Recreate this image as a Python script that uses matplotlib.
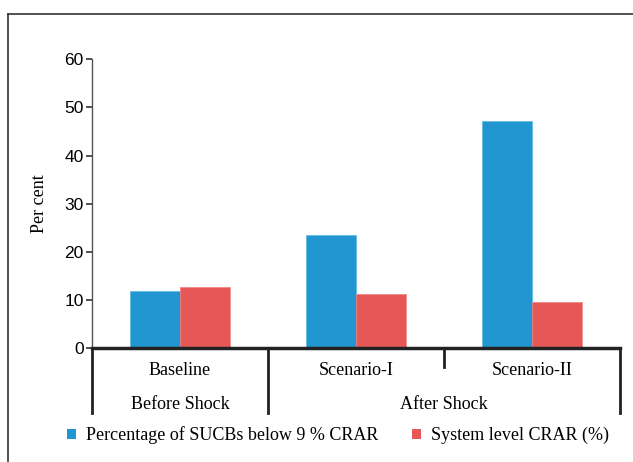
import matplotlib.pyplot as plt
import numpy as np
from matplotlib.patches import Patch
from matplotlib.lines import Line2D

# data
categories = ['Baseline', 'Scenario-I', 'Scenario-II']
groups = ['Before Shock', 'After Shock']
sucbs_below = [11.8, 23.6, 47.2]
system_crar = [12.8, 11.2, 9.6]
series_names = ['Percentage of SUCBs below 9 % CRAR', 'System level CRAR (%)']
yticks = [0, 10, 20, 30, 40, 50, 60]

blue = '#2196d0'
red = '#e75755'
serif = 'Liberation Serif'

fig = plt.figure(figsize=(6.33, 4.62), dpi=100)
ax = fig.add_axes([0.1453, 0.246, 0.9795 - 0.1453, 0.872 - 0.246])

x = np.arange(len(categories))
w = 0.284
ax.bar(x - w/2, sucbs_below, width=w, color=blue, edgecolor='#5ab8e6', linewidth=0.5)
ax.bar(x + w/2, system_crar, width=w, color=red, edgecolor='#f08080', linewidth=0.5)

ax.set_xlim(-0.5, 2.5)
ax.set_ylim(0, 60)
ax.set_yticks(yticks)
ax.set_yticklabels([str(t) for t in yticks], fontsize=12.5, family='Liberation Sans')
ax.set_xticks([])
ax.tick_params(axis='y', length=4, width=1.2, color='#333333', pad=2)

for s in ['top', 'right']:
    ax.spines[s].set_visible(False)
ax.spines['left'].set_color('#555555')
ax.spines['left'].set_linewidth(1.0)
ax.spines['bottom'].set_linewidth(2.5)
ax.spines['bottom'].set_color('#222222')

ax.set_ylabel('Per cent', fontsize=13, family=serif, labelpad=12)

# category and group labels under axis
trans = ax.get_xaxis_transform()
for i, c in enumerate(categories):
    ax.text(i, -0.078, c, transform=trans, ha='center', va='center', fontsize=13, family=serif)
ax.text(0, -0.195, groups[0], transform=trans, ha='center', va='center', fontsize=13, family=serif)
ax.text(1.5, -0.195, groups[1], transform=trans, ha='center', va='center', fontsize=13, family=serif)

# separators
for xs, depth in [(-0.5, -0.225), (0.5, -0.225), (1.5, -0.065), (2.5, -0.225)]:
    ax.add_line(Line2D([xs, xs], [0, depth], transform=trans, color='#222222',
                       linewidth=2, clip_on=False))

# legend
handles = [Patch(facecolor=blue), Patch(facecolor=red)]
fig.legend(handles, series_names, loc='center', bbox_to_anchor=(0.534, 0.058), ncol=2,
           frameon=False, prop={'family': serif, 'size': 13}, handlelength=0.5,
           handleheight=0.5, columnspacing=1.85, handletextpad=0.55)

# outer frame (top and left)
fig.add_artist(Line2D([8/633, 1], [1 - 14/462, 1 - 14/462], color='#333333', linewidth=1.2))
fig.add_artist(Line2D([8/633, 8/633], [0, 1 - 14/462], color='#333333', linewidth=1.2))

fig.savefig('out.png', dpi=100)
